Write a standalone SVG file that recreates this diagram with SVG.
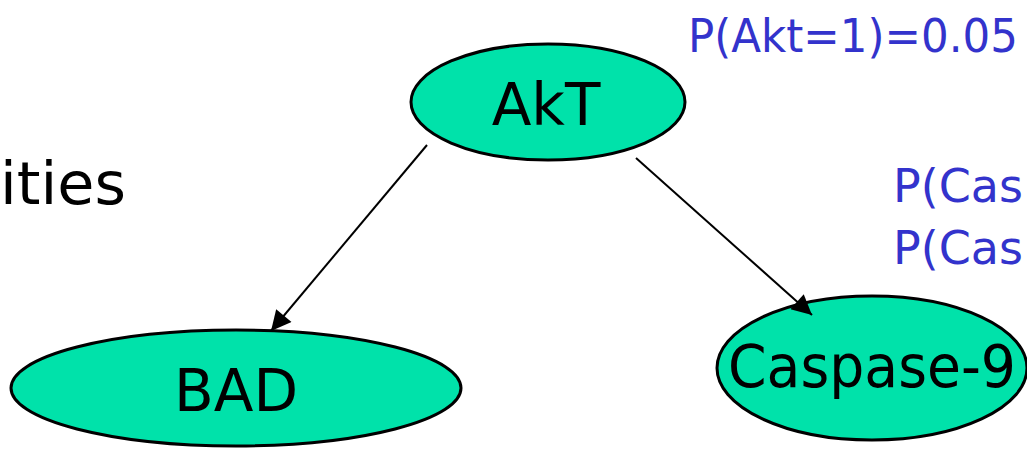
<svg xmlns="http://www.w3.org/2000/svg" width="1027" height="460" viewBox="0 0 1027 460">
<style>
.node{fill:#00E2AA;stroke:#000;stroke-width:3}
.lbl{font-family:"DejaVu Sans",sans-serif;font-size:58px;fill:#000}
.prob{font-family:"DejaVu Sans",sans-serif;font-size:46px;fill:#3333CC}
.edge{stroke:#000;stroke-width:2;fill:none;marker-end:url(#ah)}
</style>
<defs>
<marker id="ah" viewBox="0 0 10 10" refX="10" refY="5" markerWidth="26" markerHeight="20" orient="auto" markerUnits="userSpaceOnUse">
<path d="M0,0 L10,5 L0,10 z" fill="#000"/>
</marker>
</defs>
<rect width="1027" height="460" fill="#fff"/>
<text class="lbl" x="0" y="204" textLength="126" lengthAdjust="spacingAndGlyphs">ities</text>
<text class="prob" x="688" y="52" textLength="330" lengthAdjust="spacingAndGlyphs">P(Akt=1)=0.05</text>
<text class="prob" x="893" y="202">P(Cas</text>
<text class="prob" x="893" y="264">P(Cas</text>
<g id="akt">
<ellipse class="node" cx="548" cy="102" rx="137" ry="58"/>
<text class="lbl" x="546" y="125" text-anchor="middle">AkT</text>
</g>
<g id="bad">
<ellipse class="node" cx="236" cy="388" rx="225" ry="58"/>
<text class="lbl" x="236" y="411" text-anchor="middle">BAD</text>
</g>
<g id="caspase9">
<ellipse class="node" cx="872" cy="368" rx="155" ry="72"/>
<text class="lbl" x="728" y="387" textLength="288" lengthAdjust="spacingAndGlyphs">Caspase-9</text>
</g>
<g id="connectors">
<line class="edge" x1="427" y1="145" x2="271" y2="331"/>
<line class="edge" x1="636" y1="158" x2="812" y2="315"/>
</g>
</svg>
